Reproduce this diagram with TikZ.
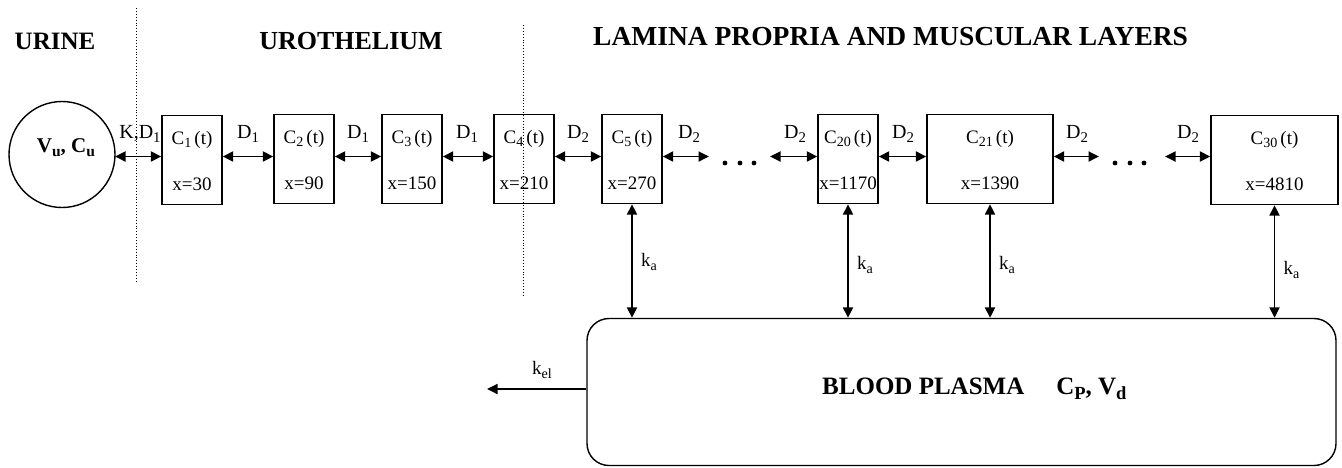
\documentclass[tikz,border=0pt]{standalone}
\usepackage{fontspec}
\usepackage{graphicx}
\setmainfont{Liberation Serif}
\usetikzlibrary{arrows.meta}
\newcommand\lsub[1]{\raisebox{-0.18em}{\scalebox{0.74}{#1}}}
\begin{document}
\begin{tikzpicture}[x=1pt,y=-1pt,
  comp/.style={draw, line width=1.4pt, inner sep=0pt, minimum width=60pt, minimum height=89pt},
  tip/.tip={Triangle[length=10.5pt,width=10pt]},
  dbl/.style={line width=1.8pt, {tip}-{tip}},
  sgl/.style={line width=1.8pt, -{tip}},
  ttl/.style={font=\fontsize{26}{28}\selectfont\bfseries},
  lbl/.style={font=\fontsize{19}{21}\selectfont, inner sep=0pt},
  dlbl/.style={font=\fontsize{20}{22}\selectfont, inner sep=0pt},
  sep/.style={dotted, line width=0.9pt},
  dot/.style={fill=black}
]
\useasboundingbox (0,0) rectangle (1342,467);

% titles
\node[ttl, font=\fontsize{25}{27}\selectfont\bfseries] (turine) at (55,41) {URINE};
\node[ttl] (turo) at (351,41) {UROTHELIUM};
\node[ttl, font=\fontsize{27.5}{29}\selectfont\bfseries, anchor=west, inner sep=0pt] (tlam) at (593,37) {LAMINA PROPRIA AND MUSCULAR LAYERS};

% separators
\coordinate (s1a) at (136,8);
\coordinate (s1b) at (136,282);
\coordinate (s2a) at (523,25);
\coordinate (s2b) at (523,296);
\draw[sep] (s1a) -- (s1b);
\draw[sep] (s2a) -- (s2b);

% urine compartment
\node[draw, circle, line width=1.4pt, minimum size=106pt, inner sep=0pt] (urine) at (62,154.5) {};
\node[font=\fontsize{21}{23}\selectfont\bfseries] (ulab) at (66,148) {V\lsub{u}, C\lsub{u}};

% tissue compartments
\node[comp] (c1) at (192,160) {};
\node[comp] (c2) at (304,159) {};
\node[comp] (c3) at (412,159) {};
\node[comp] (c4) at (524,159) {};
\node[comp] (c5) at (632,159) {};
\node[comp] (c20) at (848,159) {};
\node[comp, minimum width=126pt] (c21) at (990,159) {};
\node[comp, minimum width=127pt] (c30) at (1274.5,160) {};

\foreach \n/\s/\xx in {c1/1/30, c2/2/90, c3/3/150, c4/4/210, c5/5/270, c20/20/1170, c21/21/1390, c30/30/4810}{
  \node[lbl] (\n t) at ([yshift=20pt]\n.center) {C\lsub{\s}\,(t)};
  \node[lbl] (\n x) at ([yshift=-24pt]\n.center) {x=\xx};
}

% diffusion arrows
\coordinate (uE) at (115,156.5);
\draw[dbl] (uE) -- ([yshift=3.5pt]c1.west);
\node[dlbl] (lk) at (140,134) {K,D\lsub{1}};
\draw[dbl] ([yshift=3.5pt]c1.east) -- ([yshift=2.5pt]c2.west);
\node[dlbl] (l12) at (248,134) {D\lsub{1}};
\draw[dbl] ([yshift=2.5pt]c2.east) -- ([yshift=2.5pt]c3.west);
\node[dlbl] (l23) at (358,134) {D\lsub{1}};
\draw[dbl] ([yshift=2.5pt]c3.east) -- ([yshift=2.5pt]c4.west);
\node[dlbl] (l34) at (467,134) {D\lsub{1}};
\draw[dbl] ([yshift=2.5pt]c4.east) -- ([yshift=2.5pt]c5.west);
\node[dlbl] (l45) at (578,134) {D\lsub{2}};

\coordinate (d1a) at (709,156.5);
\coordinate (d1b) at (770,156.5);
\draw[dbl] ([yshift=2.5pt]c5.east) -- (d1a);
\node[dlbl] (l5d) at (689,134) {D\lsub{2}};
\fill[dot] (725,163) circle (2.4);
\fill[dot] (740,163) circle (2.4);
\fill[dot] (754,163) circle (2.4);
\draw[dbl] (d1b) -- ([yshift=2.5pt]c20.west);
\node[dlbl] (ld20) at (795,134) {D\lsub{2}};
\draw[dbl] ([yshift=2.5pt]c20.east) -- ([yshift=2.5pt]c21.west);
\node[dlbl] (l2021) at (903,134) {D\lsub{2}};

\coordinate (d2a) at (1099,156.5);
\coordinate (d2b) at (1165,156.5);
\draw[dbl] ([yshift=2.5pt]c21.east) -- (d2a);
\node[dlbl] (l21d) at (1077,134) {D\lsub{2}};
\fill[dot] (1115,163) circle (2.4);
\fill[dot] (1130,163) circle (2.4);
\fill[dot] (1144,163) circle (2.4);
\draw[dbl] (d2b) -- ([yshift=3.5pt]c30.west);
\node[dlbl] (ld30) at (1188,134) {D\lsub{2}};

% blood plasma
\node[draw, line width=1.4pt, rounded corners=22pt, minimum width=749pt, minimum height=147pt, inner sep=0pt] (plasma) at (961.5,392) {};
\node[anchor=west, inner sep=0pt, font=\fontsize{25}{27}\selectfont\bfseries] (plab) at (822,389) {BLOOD PLASMA\hspace{32pt}C\lsub{P}, V\lsub{d}};

% absorption arrows
\foreach \n/\ly in {c5/262, c20/265, c21/265, c30/270}{
  \draw[dbl] (\n.south) -- (\n.south |- plasma.north);
  \node[lbl, anchor=west] (\n k) at ([xshift=9pt]\n.south |- 0,\ly) {k\lsub{a}};
}

% elimination
\coordinate (elim) at (487,389);
\draw[sgl] (plasma.west |- 0,389) -- (elim);
\node[lbl] (kel) at (542,370) {k\lsub{el}};
\end{tikzpicture}
\end{document}
